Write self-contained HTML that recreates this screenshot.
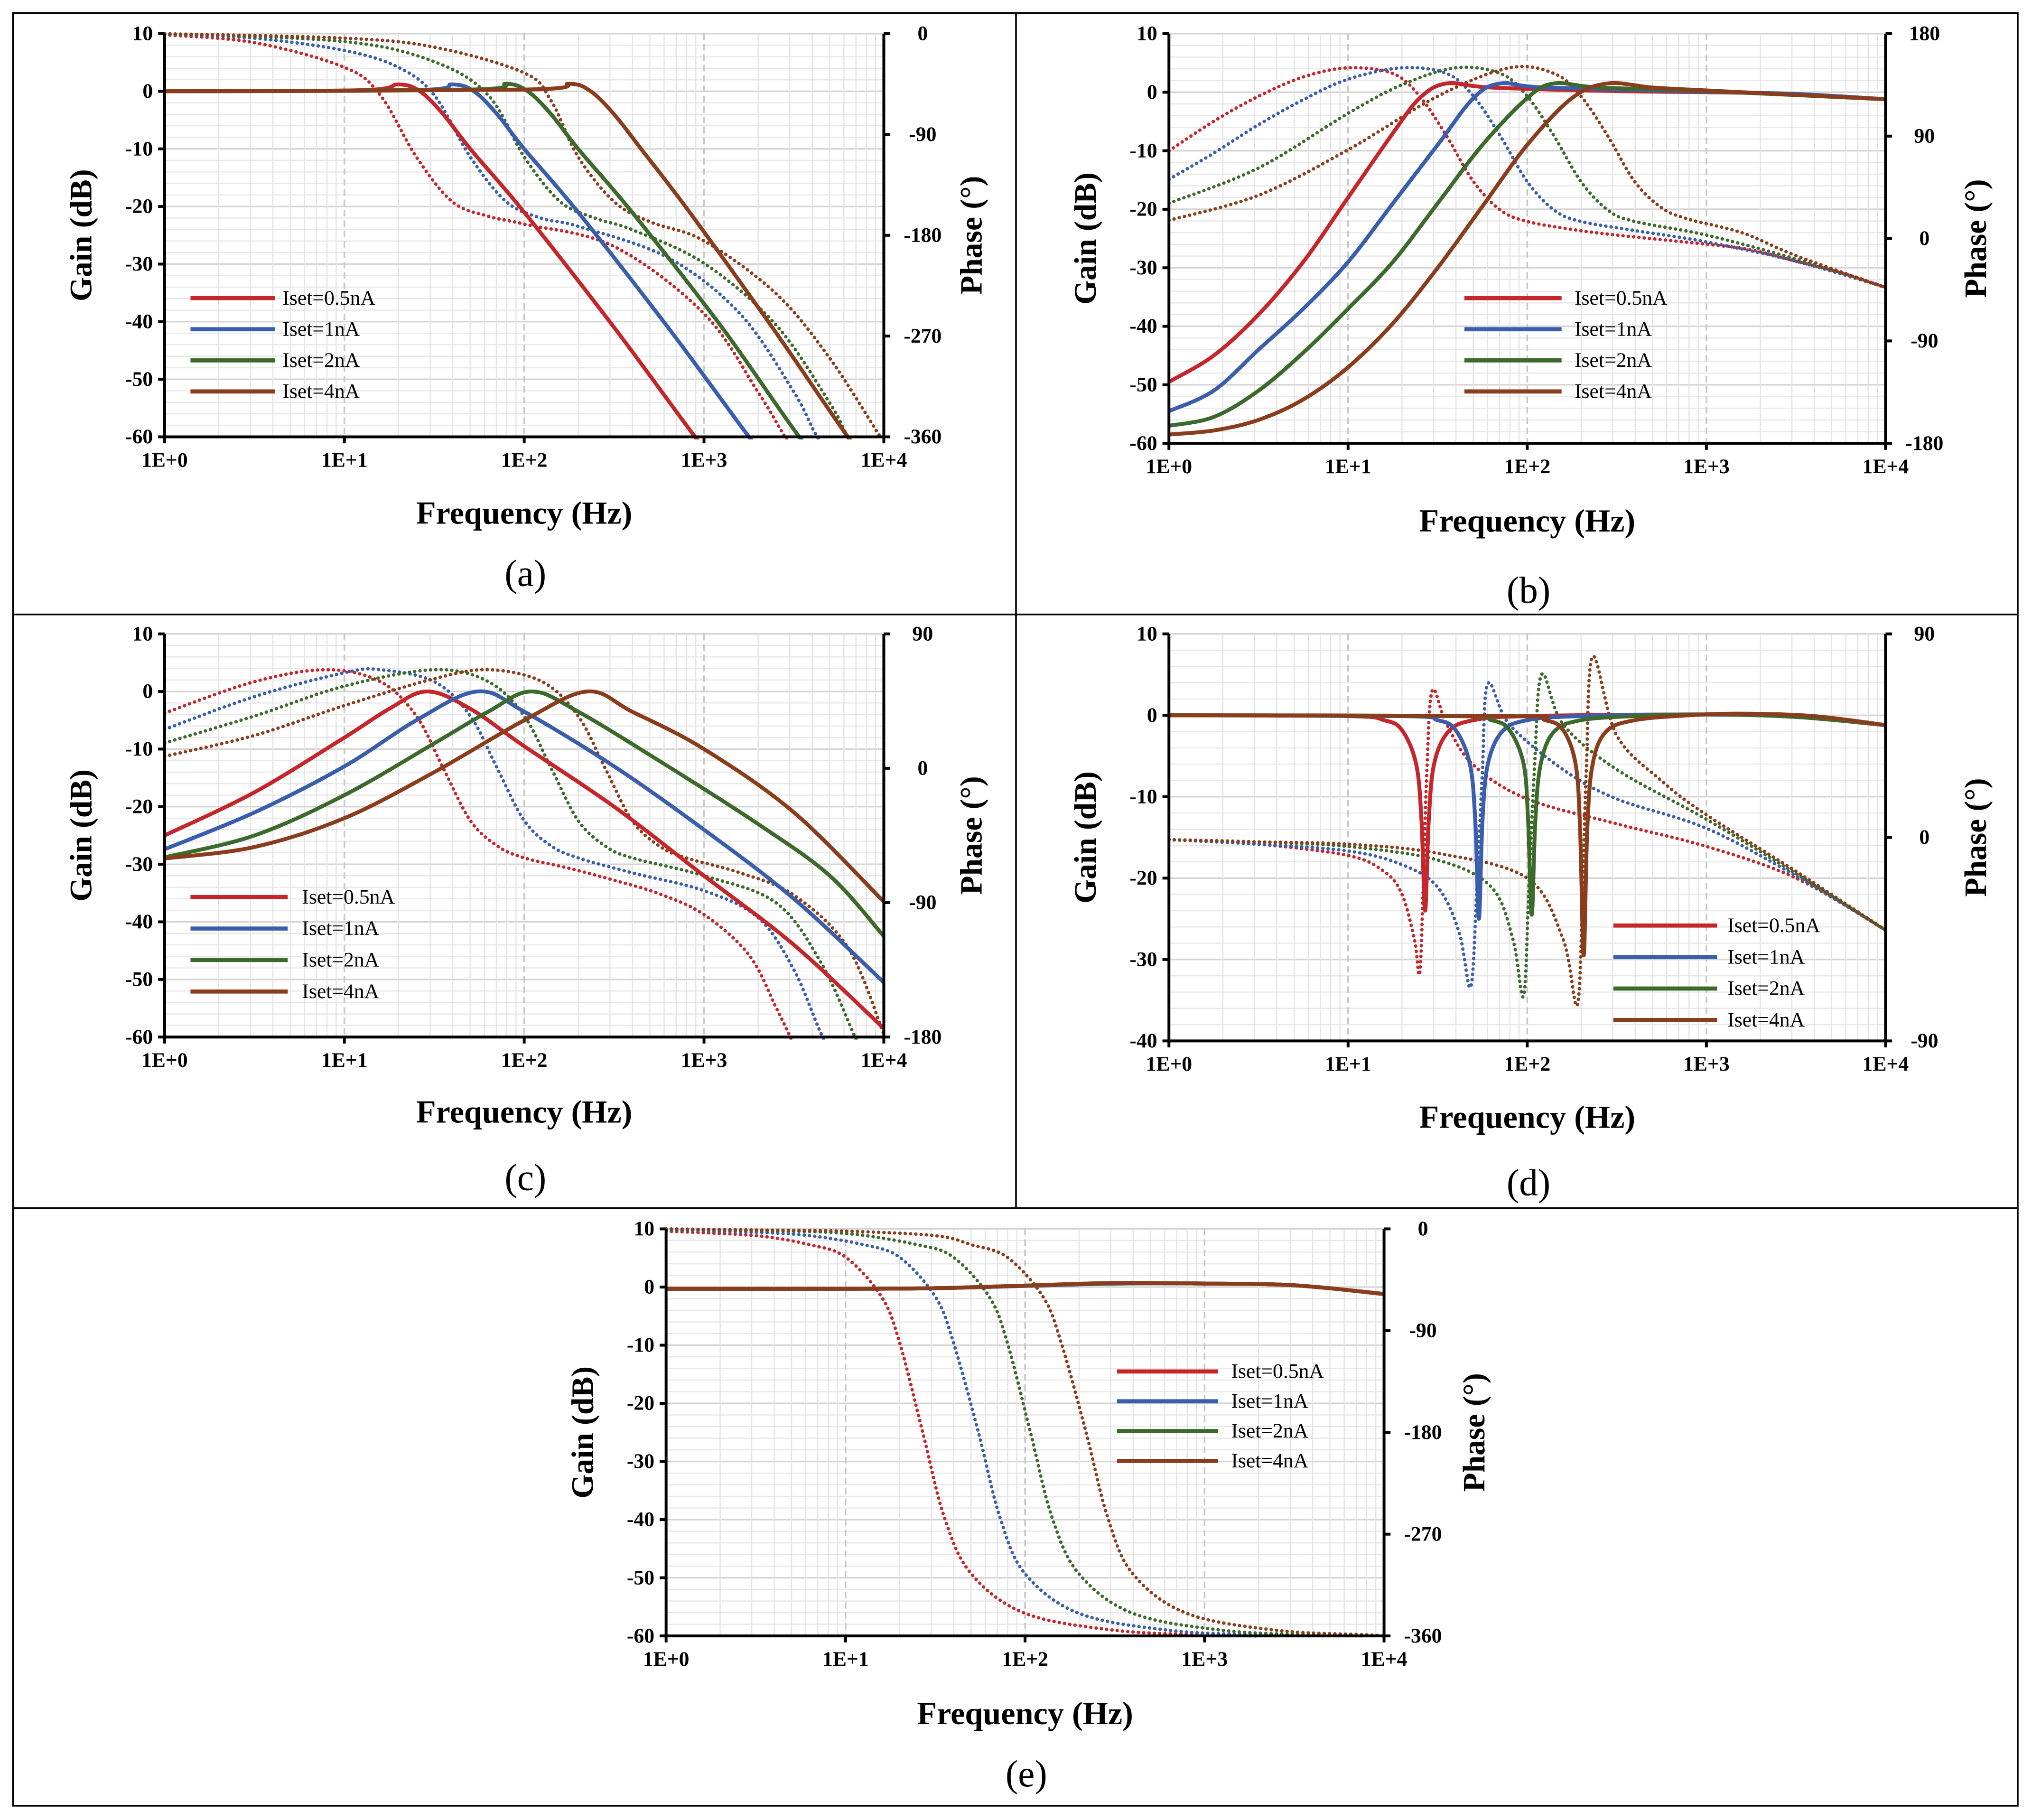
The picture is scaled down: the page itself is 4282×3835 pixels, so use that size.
<!DOCTYPE html>
<html><head><meta charset="utf-8"><style>
html,body{margin:0;padding:0;background:#fff}
svg{display:block}
text{font-family:"Liberation Serif",serif}
</style></head><body>
<svg id="fig" width="4282" height="3835" viewBox="0 0 1568 1404" preserveAspectRatio="none" xmlns="http://www.w3.org/2000/svg">
<rect x="0" y="0" width="1568" height="1404" fill="#fff"/>
<g stroke="#000" stroke-width="1.3" fill="none">
<rect x="10" y="10" width="1547" height="1383"/>
<line x1="10" y1="474" x2="1557" y2="474"/>
<line x1="10" y1="932" x2="1557" y2="932"/>
<line x1="784" y1="10" x2="784" y2="932"/>
</g>
</svg>
<script>
// ---- data: [log10(frequency), value] pairs ----
const seriesNames = ["Iset=0.5nA","Iset=1nA","Iset=2nA","Iset=4nA"];
const xTickLabels = ["1E+0","1E+1","1E+2","1E+3","1E+4"];
// (a) low-pass
const aGainRed   = [[0,0],[1.1,0.2],[1.3,1.2],[1.42,0],[1.55,-4],[1.7,-10],[2,-21],[2.5,-41],[2.95,-60],[3.2,-70]];
const aGainBlue  = [[0,0],[1.4,0.2],[1.6,1.2],[1.72,0],[1.85,-4],[2,-10],[2.3,-21],[2.8,-41],[3.25,-60],[3.5,-70]];
const aGainGreen = [[0,0],[1.7,0.3],[1.9,1.3],[2.02,0],[2.15,-4],[2.3,-10],[2.6,-21],[3.1,-41],[3.53,-60],[3.8,-70]];
const aGainBrown = [[0,0],[2,0.3],[2.25,1.3],[2.37,0],[2.5,-4],[2.65,-10],[2.92,-21],[3.38,-41],[3.8,-60],[4,-68]];
const aPhRed   = [[0,-1],[0.5,-8],[1,-30],[1.2,-55],[1.4,-110],[1.6,-150],[1.8,-163],[2,-170],[2.5,-190],[3,-250],[3.3,-320],[3.45,-360],[3.6,-400]];
const aPhBlue  = [[0,-0.5],[0.5,-4],[1,-15],[1.3,-30],[1.5,-55],[1.7,-110],[1.9,-150],[2.1,-165],[2.3,-172],[2.8,-200],[3.2,-250],[3.5,-320],[3.63,-360],[3.8,-400]];
const aPhGreen = [[0,0],[1,-7],[1.5,-25],[1.8,-55],[2,-110],[2.2,-150],[2.4,-165],[2.6,-175],[3,-205],[3.4,-260],[3.7,-330],[3.8,-360],[3.95,-400]];
const aPhBrown = [[0,0],[1,-4],[1.5,-12],[2,-35],[2.15,-60],[2.3,-110],[2.5,-150],[2.7,-168],[3,-185],[3.4,-232],[3.7,-290],[3.98,-360]];
// (b) high-pass
const bGainRed   = [[0,-49.5],[0.25,-45],[0.5,-38],[0.75,-29],[1,-18],[1.25,-7],[1.4,-1],[1.55,1.5],[1.8,0.8],[2.5,0.2],[3,0],[3.5,-0.3],[4,-1.2]];
const bGainBlue  = [[0,-54.5],[0.25,-51],[0.5,-44],[0.75,-37],[1,-29],[1.25,-19],[1.5,-9],[1.7,-1],[1.85,1.5],[2.1,0.8],[3,0.1],[3.5,-0.3],[4,-1.2]];
const bGainGreen = [[0,-57],[0.25,-55.5],[0.5,-51],[0.75,-44.5],[1,-37],[1.25,-29],[1.5,-19],[1.75,-9],[2,-1],[2.15,1.5],[2.4,0.8],[3,0.2],[4,-1.2]];
const bGainBrown = [[0,-58.5],[0.25,-57.8],[0.5,-56],[0.75,-52.5],[1,-47],[1.25,-39.5],[1.5,-30],[1.75,-19.5],[2,-9],[2.25,-1],[2.45,1.5],[2.7,0.8],[3,0.3],[4,-1.2]];
const bPhRed   = [[0,77],[0.25,103],[0.5,125],[0.75,142],[1,150],[1.25,145],[1.4,125],[1.55,90],[1.7,50],[1.85,25],[2,15],[2.25,8],[2.5,3],[3,-5],[3.25,-10],[3.5,-20],[3.75,-30],[4,-43]];
const bPhBlue  = [[0,52],[0.25,75],[0.5,100],[0.75,122],[1,140],[1.3,150],[1.55,145],[1.7,125],[1.85,90],[2,50],[2.15,25],[2.3,15],[2.6,7],[3,-3],[3.5,-20],[4,-43]];
const bPhGreen = [[0,31],[0.5,62],[1,110],[1.3,135],[1.6,150],[1.85,145],[2,125],[2.15,90],[2.3,50],[2.45,25],[2.6,15],[3,3],[3.5,-18],[4,-43]];
const bPhBrown = [[0,16],[0.5,38],[1,78],[1.5,125],[1.9,150],[2.15,145],[2.3,125],[2.45,90],[2.6,50],[2.75,27],[2.9,17],[3.2,5],[3.5,-15],[4,-43]];
// (c) band-pass
const cGainRed   = [[0,-25],[0.5,-17.5],[1,-8],[1.25,-3],[1.46,0],[1.7,-3],[2,-9.5],[2.5,-20],[3,-32],[3.5,-44],[4,-58.5]];
const cGainBlue  = [[0,-27.4],[0.5,-21],[1,-13],[1.4,-5],[1.74,0],[2,-3.5],[2.5,-13],[3,-24],[3.5,-36],[4,-50.5]];
const cGainGreen = [[0,-28.8],[0.5,-25],[1,-18],[1.5,-9],[1.8,-3.5],[2.04,0],[2.3,-3.5],[2.8,-13],[3.3,-23],[3.7,-32],[4,-42.5]];
const cGainBrown = [[0,-29],[0.5,-27],[1,-22],[1.5,-14],[2,-5],[2.35,0],[2.6,-3.5],[3,-10],[3.5,-21],[4,-36.5]];
const cPhRed   = [[0,37],[0.5,58],[0.9,66],[1.2,58],[1.4,35],[1.55,0],[1.7,-35],[1.85,-52],[2,-60],[2.25,-67],[2.5,-75],[2.75,-84],[3,-98],[3.25,-125],[3.4,-160],[3.48,-180],[3.6,-210]];
const cPhBlue  = [[0,26],[0.5,48],[1,64],[1.2,66],[1.5,58],[1.7,35],[1.85,0],[2,-35],[2.15,-52],[2.3,-60],[2.6,-70],[3,-82],[3.3,-100],[3.5,-135],[3.66,-180],[3.8,-210]];
const cPhGreen = [[0,17],[0.5,35],[1,55],[1.5,66],[1.8,58],[2,35],[2.15,0],[2.3,-35],[2.45,-52],[2.6,-60],[3,-72],[3.4,-90],[3.65,-130],[3.84,-180],[3.95,-210]];
const cPhBrown = [[0,8],[0.5,22],[1,42],[1.5,60],[1.8,66],[2.1,58],[2.3,35],[2.45,0],[2.6,-35],[2.75,-52],[2.9,-60],[3.2,-70],[3.5,-85],[3.8,-120],[4,-178]];
// (d) notch
const dGainRed   = [[0,0],[1,-0.1],[1.2,-0.6],[1.3,-1.8],[1.38,-6],[1.41,-13],[1.43,-24],[1.45,-13],[1.48,-6],[1.56,-2],[1.7,-0.6],[2,-0.1],[3,0.1],[3.5,-0.2],[4,-1.2]];
const dGainBlue  = [[0,0],[1.3,-0.1],[1.5,-0.6],[1.6,-1.8],[1.68,-6],[1.71,-13],[1.73,-25],[1.75,-13],[1.78,-6],[1.86,-2],[2,-0.6],[2.3,-0.1],[3,0.1],[3.5,-0.2],[4,-1.2]];
const dGainGreen = [[0,0],[1.6,-0.1],[1.8,-0.6],[1.9,-1.8],[1.98,-6],[2.005,-13],[2.025,-24.5],[2.045,-13],[2.075,-6],[2.15,-2],[2.3,-0.6],[2.6,-0.1],[3,0.1],[3.5,-0.2],[4,-1.2]];
const dGainBrown = [[0,0],[1.9,-0.1],[2.1,-0.6],[2.2,-1.8],[2.27,-6],[2.295,-14],[2.315,-29.5],[2.335,-14],[2.365,-6],[2.44,-2],[2.6,-0.6],[2.9,0],[3.2,0.2],[3.6,-0.1],[4,-1.2]];
const dPhRed   = [[0,-1],[0.5,-3],[1,-8],[1.2,-15],[1.3,-25],[1.37,-45],[1.4,-60],[1.42,-20],[1.44,30],[1.47,65],[1.55,50],[1.7,32],[2,17],[2.5,6],[3,-4],[3.5,-18],[4,-41]];
const dPhBlue  = [[0,-1],[0.5,-3],[1,-6],[1.3,-12],[1.5,-22],[1.62,-42],[1.685,-66],[1.72,-20],[1.75,30],[1.78,68],[1.9,50],[2.2,30],[2.5,17],[3,4],[3.5,-17],[4,-41]];
const dPhGreen = [[0,-1],[0.5,-2],[1,-4],[1.5,-10],[1.8,-22],[1.92,-45],[1.98,-70],[2.01,-20],[2.04,30],[2.08,72],[2.2,50],[2.5,30],[3,8],[3.5,-16],[4,-41]];
const dPhBrown = [[0,-1],[0.5,-2],[1,-3],[1.5,-7],[2,-18],[2.2,-45],[2.28,-74],[2.31,-20],[2.33,30],[2.365,80],[2.5,45],[2.75,25],[3,10],[3.5,-15],[4,-41]];
// (e) all-pass
const eGainRed   = [[0,-0.3],[1,-0.3],[1.5,-0.2],[2,0.2],[2.5,0.6],[3,0.6],[3.5,0.3],[4,-1.2]];
const eGainBlue  = [[0,-0.3],[1,-0.3],[1.5,-0.2],[2,0.2],[2.5,0.6],[3,0.6],[3.5,0.3],[4,-1.2]];
const eGainGreen = [[0,-0.3],[1,-0.3],[1.5,-0.2],[2,0.25],[2.5,0.65],[3,0.6],[3.5,0.3],[4,-1.2]];
const eGainBrown = [[0,-0.3],[1,-0.3],[1.5,-0.2],[2,0.25],[2.5,0.7],[3,0.6],[3.5,0.3],[4,-1.2]];
const ePhRed   = [[0,-2],[0.5,-6],[0.8,-14],[1,-25],[1.2,-60],[1.3,-100],[1.43,-180],[1.55,-255],[1.7,-305],[2,-340],[2.5,-355],[3,-359],[3.3,-360]];
const ePhBlue  = [[0,-1],[0.5,-3],[0.8,-6],[1.1,-14],[1.3,-25],[1.5,-60],[1.6,-100],[1.74,-180],[1.86,-255],[2,-305],[2.3,-340],[2.8,-355],[3.3,-359],[3.6,-360]];
const ePhGreen = [[0,-0.5],[0.5,-1.5],[1,-4],[1.4,-14],[1.6,-25],[1.8,-60],[1.9,-100],[2.03,-180],[2.15,-255],[2.3,-305],[2.6,-340],[3.1,-355],[3.6,-359],[3.9,-360]];
const ePhBrown = [[0,0],[0.5,-1],[1,-2],[1.5,-6],[1.7,-14],[1.9,-25],[2.1,-60],[2.2,-100],[2.34,-180],[2.46,-255],[2.6,-305],[2.9,-340],[3.4,-355],[3.9,-359],[4,-360]];
// axis tick labels
const gainTicksA = [10,0,-10,-20,-30,-40,-50,-60];
const gainTicksD = [10,0,-10,-20,-30,-40];
const phaseTicksA = [0,-90,-180,-270,-360];
const phaseTicksB = [180,90,0,-90,-180];
const phaseTicksC = [90,0,-90,-180];
const phaseTicksD = [90,0,-90];

const colors = ["#c4262b","#3a5eab","#3c6a2c","#8a3d1c"];
const NS = "http://www.w3.org/2000/svg";
const svg = document.getElementById("fig");
function mk(tag, attrs, parent){const e=document.createElementNS(NS,tag);for(const k in attrs)e.setAttribute(k,attrs[k]);(parent||svg).appendChild(e);return e;}

const panels = [
 {id:"a",x0:127,x1:682,y0:26,y1:337,g:[10,-60],gt:gainTicksA,p:[0,-360],pt:phaseTicksA,gains:[aGainRed,aGainBlue,aGainGreen,aGainBrown],phs:[aPhRed,aPhBlue,aPhGreen,aPhBrown],leg:[147,212,218,230,24],gx:65,px:752,fy:396,ly:442},
 {id:"b",x0:902,x1:1455,y0:26,y1:342,g:[10,-60],gt:gainTicksA,p:[180,-180],pt:phaseTicksB,gains:[bGainRed,bGainBlue,bGainGreen,bGainBrown],phs:[bPhRed,bPhBlue,bPhGreen,bPhBrown],leg:[1130,1205,1215,230,24],gx:840,px:1527,fy:402,ly:455},
 {id:"c",x0:127,x1:682,y0:489,y1:800,g:[10,-60],gt:gainTicksA,p:[90,-180],pt:phaseTicksC,gains:[cGainRed,cGainBlue,cGainGreen,cGainBrown],phs:[cPhRed,cPhBlue,cPhGreen,cPhBrown],leg:[147,222,233,692,24.3],gx:65,px:752,fy:858,ly:908},
 {id:"d",x0:902,x1:1455,y0:489,y1:803,g:[10,-40],gt:gainTicksD,p:[90,-90],pt:phaseTicksD,gains:[dGainRed,dGainBlue,dGainGreen,dGainBrown],phs:[dPhRed,dPhBlue,dPhGreen,dPhBrown],leg:[1245,1325,1333,714,24.3],gx:840,px:1527,fy:862,ly:912},
 {id:"e",x0:514,x1:1068,y0:948,y1:1262,g:[10,-60],gt:gainTicksA,p:[0,-360],pt:phaseTicksA,gains:[eGainRed,eGainBlue,eGainGreen,eGainBrown],phs:[ePhRed,ePhBlue,ePhGreen,ePhBrown],leg:[862,940,950,1058,23],gx:452,px:1140,fy:1322,ly:1368}
];

function pathFor(pts){ // Catmull-Rom through pixel points
  let d="M"+pts[0][0].toFixed(2)+","+pts[0][1].toFixed(2);
  for(let i=0;i<pts.length-1;i++){
    const p0=pts[i-1]||pts[i],p1=pts[i],p2=pts[i+1],p3=pts[i+2]||pts[i+1];
    const c1=[p1[0]+(p2[0]-p0[0])/6,p1[1]+(p2[1]-p0[1])/6];
    const c2=[p2[0]-(p3[0]-p1[0])/6,p2[1]-(p3[1]-p1[1])/6];
    d+=" C"+c1[0].toFixed(2)+","+c1[1].toFixed(2)+" "+c2[0].toFixed(2)+","+c2[1].toFixed(2)+" "+p2[0].toFixed(2)+","+p2[1].toFixed(2);
  }
  return d;
}

panels.forEach(P=>{
  const X=u=>P.x0+(u/4)*(P.x1-P.x0);
  const YG=v=>P.y0+(P.g[0]-v)/(P.g[0]-P.g[1])*(P.y1-P.y0);
  const YP=v=>P.y0+(P.p[0]-v)/(P.p[0]-P.p[1])*(P.y1-P.y0);
  const g=mk("g",{});
  
  
  const clip=mk("clipPath",{id:"clip"+P.id},g);
  mk("rect",{x:P.x0,y:P.y0-2,width:P.x1-P.x0,height:P.y1-P.y0+4},clip);
  const grid=mk("g",{},g);
  
  
  for(let v=P.g[0];v>=P.g[1];v-=2){
    const major=(v%10===0);
    mk("line",{x1:P.x0,x2:P.x1,y1:YG(v),y2:YG(v),stroke:major?"#d4d4d4":"#e8e8e8","stroke-width":major?1.2:0.9},grid);
  }
  for(let d=0;d<4;d++){
    for(let k=2;k<=9;k++){const x=X(d+Math.log10(k));mk("line",{x1:x,x2:x,y1:P.y0,y2:P.y1,stroke:"#e4e4e4","stroke-width":0.9},grid);}
    if(d>0){const x=X(d);mk("line",{x1:x,x2:x,y1:P.y0,y2:P.y1,stroke:"#c8c8c8","stroke-width":1.3,"stroke-dasharray":"5 3"},grid);}
  }
  const sg=mk("g",{"clip-path":"url(#clip"+P.id+")"},g);
  P.phs.forEach((s,i)=>{
    const el=mk("path",{d:pathFor(s.map(q=>[X(q[0]),YP(q[1])])),fill:"none",stroke:colors[i],"stroke-width":2.6,"stroke-dasharray":"0.1 4","stroke-linecap":"round"},sg);
    
    
  });
  P.gains.forEach((s,i)=>{
    const el=mk("path",{d:pathFor(s.map(q=>[X(q[0]),YG(q[1])])),fill:"none",stroke:colors[i],"stroke-width":3,"stroke-linejoin":"round"},sg);
    
    
  });
  const ax=mk("g",{stroke:"#000","stroke-width":2.2},g);
  
  
  mk("line",{x1:P.x0,x2:P.x0,y1:P.y0,y2:P.y1},ax);
  mk("line",{x1:P.x1,x2:P.x1,y1:P.y0,y2:P.y1},ax);
  mk("line",{x1:P.x0,x2:P.x1,y1:P.y1,y2:P.y1},ax);
  P.gt.forEach(v=>{
    mk("line",{x1:P.x0-5,x2:P.x0,y1:YG(v),y2:YG(v)},ax);
    const t=mk("text",{x:P.x0-9,y:YG(v)+5,"text-anchor":"end","font-size":16,"font-weight":"bold"},g);t.textContent=v;
    
    
  });
  P.pt.forEach(v=>{
    mk("line",{x1:P.x1,x2:P.x1+5,y1:YP(v),y2:YP(v)},ax);
    const t=mk("text",{x:P.x1+30,y:YP(v)+5,"text-anchor":"middle","font-size":16,"font-weight":"bold"},g);t.textContent=v;
    
    
  });
  xTickLabels.forEach((lab,i)=>{
    mk("line",{x1:X(i),x2:X(i),y1:P.y1,y2:P.y1+5},ax);
    const t=mk("text",{x:X(i),y:P.y1+23,"text-anchor":"middle","font-size":16,"font-weight":"bold"},g);t.textContent=lab;
    
    
  });
  const cy=(P.y0+P.y1)/2, cx=(P.x0+P.x1)/2;
  let t=mk("text",{x:P.gx,y:cy,transform:"rotate(-90 "+P.gx+" "+cy+")","text-anchor":"middle","font-size":24,"font-weight":"bold","dominant-baseline":"middle"},g);t.textContent="Gain (dB)";
  
  
  t=mk("text",{x:P.px,y:cy,transform:"rotate(-90 "+P.px+" "+cy+")","text-anchor":"middle","font-size":24,"font-weight":"bold","dominant-baseline":"middle"},g);t.textContent="Phase (°)";
  
  
  t=mk("text",{x:cx,y:P.fy+8,"text-anchor":"middle","font-size":25,"font-weight":"bold"},g);t.textContent="Frequency (Hz)";
  
  
  t=mk("text",{x:cx+1,y:P.ly+10,"text-anchor":"middle","font-size":29},g);t.textContent="("+P.id+")";
  
  
  const lg=mk("g",{},g);
  
  
  seriesNames.forEach((nm,i)=>{
    const y=P.leg[3]+i*P.leg[4];
    mk("line",{x1:P.leg[0],x2:P.leg[1],y1:y,y2:y,stroke:colors[i],"stroke-width":3.2},lg);
    const tt=mk("text",{x:P.leg[2],y:y+5,"font-size":16},lg);tt.textContent=nm;
    
    
  });
});
</script>
</body></html>
